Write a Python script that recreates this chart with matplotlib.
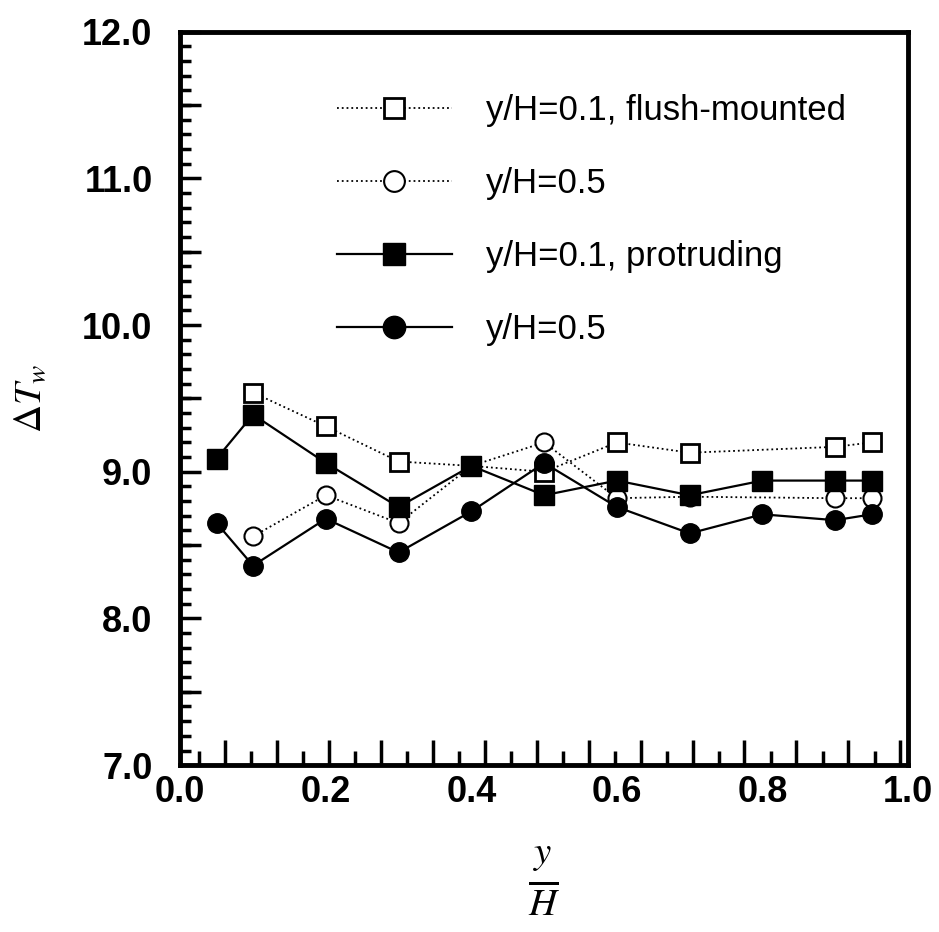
import numpy as np
import matplotlib
matplotlib.use("Agg")
import matplotlib.pyplot as plt
from matplotlib.ticker import MultipleLocator, FixedLocator

plt.rcParams['font.family'] = ['Liberation Sans', 'DejaVu Sans']
plt.rcParams['mathtext.fontset'] = 'stix'

# data
x_flush = [0.1, 0.2, 0.3, 0.4, 0.5, 0.6, 0.7, 0.9, 0.95]
flush_01 = [9.54, 9.31, 9.07, 9.04, 9.00, 9.20, 9.13, 9.17, 9.20]
flush_05 = [8.56, 8.84, 8.65, 9.04, 9.20, 8.82, 8.83, 8.82, 8.82]
x_prot = [0.05, 0.1, 0.2, 0.3, 0.4, 0.5, 0.6, 0.7, 0.8, 0.9, 0.95]
prot_01 = [9.09, 9.39, 9.06, 8.76, 9.04, 8.84, 8.94, 8.84, 8.94, 8.94, 8.94]
prot_05 = [8.65, 8.36, 8.68, 8.45, 8.73, 9.06, 8.76, 8.58, 8.71, 8.67, 8.71]

labels = ["y/H=0.1, flush-mounted", "y/H=0.5", "y/H=0.1, protruding", "y/H=0.5"]
x_ticklabels = [0.0, 0.2, 0.4, 0.6, 0.8, 1.0]

fig = plt.figure(figsize=(9.39, 9.32), dpi=100)
ax = fig.add_axes([0.192, 0.179, 0.775, 0.787])

ax.plot(x_flush, flush_01, linestyle=':', color='black', lw=1.3,
        marker='s', ms=13, mfc='white', mec='black', mew=2.0, label=labels[0], zorder=3)
ax.plot(x_flush, flush_05, linestyle=':', color='black', lw=1.3,
        marker='o', ms=13, mfc='white', mec='black', mew=1.5, label=labels[1], zorder=3)
ax.plot(x_prot, prot_01, linestyle='-', color='black', lw=1.6,
        marker='s', ms=14, mfc='black', mec='black', label=labels[2], zorder=4)
ax.plot(x_prot, prot_05, linestyle='-', color='black', lw=1.6,
        marker='o', ms=14, mfc='black', mec='black', label=labels[3], zorder=4)

ax.set_xlim(0.0, 1.0)
ax.set_ylim(7.0, 12.0)

for s in ax.spines.values():
    s.set_linewidth(3.5)

# y ticks
ax.yaxis.set_major_locator(MultipleLocator(1.0))
ax.yaxis.set_minor_locator(MultipleLocator(0.1))
ax.yaxis.set_major_formatter(matplotlib.ticker.FormatStrFormatter('%.1f'))
ax.tick_params(axis='y', which='major', direction='in', length=15, width=2.5,
               labelsize=26, pad=20, left=True, right=False)
ax.tick_params(axis='y', which='minor', direction='in', length=8, width=2.5,
               left=True, right=False)
for lab in ax.get_yticklabels():
    lab.set_fontweight('bold')
# longer ticks at half-units
half = [7.5, 8.5, 9.5, 10.5, 11.5]
for yv in half:
    ax.plot([0, 0.028], [yv, yv], color='black', lw=2.5, transform=ax.get_yaxis_transform(),
            clip_on=False, solid_capstyle='butt')

# x ticks: decorative tick marks, labels on secondary axis
long_ticks = list(np.arange(0.061, 1.0, 1/14))
short_ticks = list(np.arange(0.0255, 1.0, 1/14))
ax.xaxis.set_major_locator(FixedLocator(long_ticks))
ax.xaxis.set_minor_locator(FixedLocator(short_ticks))
ax.tick_params(axis='x', which='major', direction='in', length=18, width=2.5,
               labelbottom=False, top=False)
ax.tick_params(axis='x', which='minor', direction='in', length=10, width=2.5, top=False)

sec = ax.secondary_xaxis('bottom')
sec.set_xticks(x_ticklabels)
sec.set_xticklabels([f'{v:.1f}' for v in x_ticklabels], fontsize=26, fontweight='bold')
sec.tick_params(length=0, pad=7)
sec.spines['bottom'].set_visible(False)

ax.set_xlabel(r'$\frac{\mathbf{\mathit{y}}}{\mathbf{\mathit{H}}}$', fontsize=40, labelpad=54)
ax.set_ylabel(r'$\Delta T_w$', fontsize=28, labelpad=24)

leg = ax.legend(loc='upper left', bbox_to_anchor=(0.182, 0.948), frameon=False,
                fontsize=25, handlelength=3.3, handletextpad=1.0, labelspacing=1.15,
                borderaxespad=0.3, markerscale=1.15)

fig.savefig('out.png', dpi=100)
